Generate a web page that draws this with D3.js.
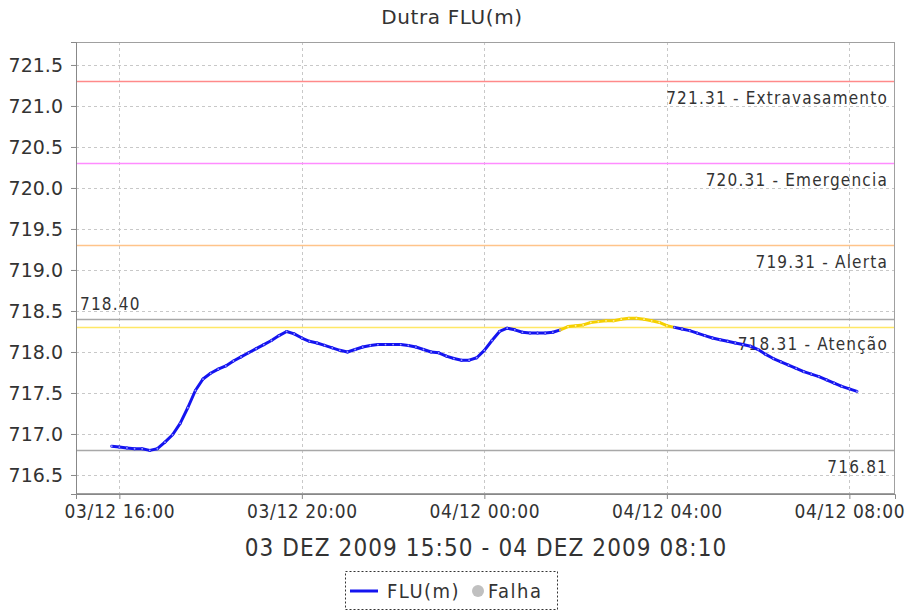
<!DOCTYPE html>
<html>
<head>
<meta charset="utf-8">
<script src="https://cdn.jsdelivr.net/npm/d3@7"></script>
<style>
  body { margin: 0; background: #fff; }
  text { font-family: "DejaVu Sans Condensed", "DejaVu Sans", sans-serif; fill: #333; }
</style>
</head>
<body>
<svg id="chart"></svg>
<script>
var times = [
  "03 15:50","03 16:00","03 16:10","03 16:20","03 16:30","03 16:40","03 16:50","03 17:00","03 17:10","03 17:20",
  "03 17:30","03 17:40","03 17:50","03 18:00","03 18:10","03 18:20","03 18:30","03 18:40","03 18:50","03 19:00",
  "03 19:10","03 19:20","03 19:30","03 19:40","03 19:50","03 20:00","03 20:10","03 20:20","03 20:30","03 20:40",
  "03 20:50","03 21:00","03 21:10","03 21:20","03 21:30","03 21:40","03 21:50","03 22:00","03 22:10","03 22:20",
  "03 22:30","03 22:40","03 22:50","03 23:00","03 23:10","03 23:20","03 23:30","03 23:40","03 23:50","04 00:00",
  "04 00:10","04 00:20","04 00:30","04 00:40","04 00:50","04 01:00","04 01:10","04 01:20","04 01:30","04 01:40",
  "04 01:50","04 02:00","04 02:10","04 02:20","04 02:30","04 02:40","04 02:50","04 03:00","04 03:10","04 03:20",
  "04 03:30","04 03:40","04 03:50","04 04:00","04 04:10","04 04:20","04 04:30","04 04:40","04 04:50","04 05:00",
  "04 05:10","04 05:20","04 05:30","04 05:40","04 05:50","04 06:00","04 06:10","04 06:20","04 06:30","04 06:40",
  "04 06:50","04 07:00","04 07:10","04 07:20","04 07:30","04 07:40","04 07:50","04 08:00","04 08:10"
];
var levels = [
  716.85,716.84,716.83,716.82,716.82,716.80,716.82,716.90,716.99,717.13,
  717.32,717.53,717.67,717.74,717.79,717.83,717.89,717.94,717.99,718.04,
  718.09,718.14,718.20,718.25,718.22,718.17,718.13,718.11,718.08,718.05,
  718.02,718.00,718.03,718.06,718.08,718.09,718.09,718.09,718.09,718.08,
  718.06,718.03,718.00,717.99,717.95,717.92,717.90,717.90,717.93,718.02,
  718.14,718.25,718.29,718.27,718.24,718.23,718.23,718.23,718.24,718.27,
  718.31,718.32,718.33,718.36,718.37,718.38,718.38,718.40,718.41,718.41,
  718.40,718.38,718.36,718.32,718.30,718.28,718.26,718.23,718.20,718.17,
  718.15,718.13,718.11,718.09,718.07,718.03,717.97,717.92,717.88,717.84,
  717.80,717.76,717.73,717.70,717.66,717.62,717.58,717.55,717.52
];

// reference lines
var markerValues = [721.31, 720.31, 719.31, 718.31];
var markerNames = ["Extravasamento", "Emergencia", "Alerta", "Atenção"];
var markerColors = ["#ff8a8a", "#ff8cff", "#ffc48a", "#ffe866"];
var rangeValues = [718.40, 716.81];

var xTicks = ["03 16:00", "03 20:00", "04 00:00", "04 04:00", "04 08:00"];
var yTicks = [716.5, 717.0, 717.5, 718.0, 718.5, 719.0, 719.5, 720.0, 720.5, 721.0, 721.5];

var title = "Dutra FLU(m)";
var xLabel = "03 DEZ 2009 15:50 - 04 DEZ 2009 08:10";

var W = 906, H = 614;
var margin = { top: 42, right: 11, bottom: 120, left: 76 };
var width = W - margin.left - margin.right;
var height = H - margin.top - margin.bottom;

var parse = d3.timeParse("%Y-%m-%d %H:%M");
var toDate = function (s) { return parse("2009-12-" + s.slice(0, 2) + " " + s.slice(3)); };

var data = times.map(function (t, i) { return { date: toDate(t), value: levels[i] }; });

var x = d3.scaleTime()
  .domain([toDate("03 15:03"), toDate("04 09:00")])
  .range([0, width]);
var y = d3.scaleLinear()
  .domain([716.268, 721.78])
  .range([height, 0]);

var svg = d3.select("#chart").attr("width", W).attr("height", H);

svg.append("text")
  .attr("x", 452).attr("y", 24)
  .attr("text-anchor", "middle")
  .style("font-family", "'DejaVu Sans', sans-serif")
  .style("font-size", "20px").style("letter-spacing", "0.6px")
  .text(title);

var g = svg.append("g").attr("transform", "translate(" + margin.left + "," + margin.top + ")");

g.append("rect").attr("width", width).attr("height", height).attr("fill", "#fff");

// grid
g.append("g").selectAll("line").data(yTicks).join("line")
  .attr("x1", 0).attr("x2", width)
  .attr("y1", function (d) { return Math.round(y(d)) + 0.5; })
  .attr("y2", function (d) { return Math.round(y(d)) + 0.5; })
  .attr("stroke", "#c8c8c8").attr("stroke-dasharray", "3,3");
g.append("g").selectAll("line").data(xTicks).join("line")
  .attr("y1", 0).attr("y2", height)
  .attr("x1", function (d) { return Math.round(x(toDate(d))) + 0.5; })
  .attr("x2", function (d) { return Math.round(x(toDate(d))) + 0.5; })
  .attr("stroke", "#c8c8c8").attr("stroke-dasharray", "3,3");

// threshold markers
markerValues.forEach(function (v, i) {
  var yy = Math.round(y(v)) + 0.5;
  g.append("line").attr("x1", 0).attr("x2", width).attr("y1", yy).attr("y2", yy)
    .attr("stroke", markerColors[i]).attr("stroke-width", 1.3);
  g.append("text").attr("x", width - 7).attr("y", yy + 22)
    .attr("text-anchor", "end").style("font-size", "17px").style("letter-spacing", "1.2px")
    .text(v.toFixed(2) + " - " + markerNames[i]);
});
rangeValues.forEach(function (v, i) {
  var yy = Math.round(y(v)) + 0.5;
  g.append("line").attr("x1", 0).attr("x2", width).attr("y1", yy).attr("y2", yy)
    .attr("stroke", "#a8a8a8").attr("stroke-width", 1.3);
  g.append("text")
    .attr("x", i === 0 ? 4 : width - 7)
    .attr("y", i === 0 ? yy - 10 : yy + 22)
    .attr("text-anchor", i === 0 ? "start" : "end")
    .style("font-size", "17px").style("letter-spacing", "1.2px")
    .text(v.toFixed(2));
});

// series, segments coloured by the attention threshold
var line = d3.line()
  .x(function (d) { return x(d.date); })
  .y(function (d) { return y(d.value); });
var segs = d3.pairs(data);
g.append("g").selectAll("path").data(segs).join("path")
  .attr("d", line)
  .attr("fill", "none")
  .attr("stroke", function (d) {
    return Math.max(d[0].value, d[1].value) >= markerValues[3] ? "#f5d000" : "#1414f0";
  })
  .attr("stroke-width", 3)
  .attr("stroke-linecap", "round");
g.append("g").selectAll("circle").data(data).join("circle")
  .attr("cx", function (d) { return x(d.date); })
  .attr("cy", function (d) { return y(d.value); })
  .attr("r", 0.9)
  .attr("fill", function (d) { return d.value >= markerValues[3] ? "#fff0a0" : "#9a9aff"; });

// border
g.append("rect").attr("x", 0.5).attr("y", 0.5).attr("width", width - 1).attr("height", height - 1)
  .attr("fill", "none").attr("stroke", "#a0a0a0");

// axes
var yAxis = d3.axisLeft(y).tickValues(yTicks).tickFormat(d3.format(".1f")).tickSize(5).tickPadding(8);
var gy = g.append("g").call(yAxis);
gy.select(".domain").attr("stroke", "#888");
gy.selectAll(".tick line").attr("stroke", "#888");
gy.selectAll("text").style("font-family", "'DejaVu Sans', sans-serif").style("font-size", "19px")
  .attr("fill", "#333");

var xAxis = d3.axisBottom(x).tickValues(xTicks.map(toDate))
  .tickFormat(d3.timeFormat("%d/%m %H:%M")).tickSize(5).tickPadding(6);
var gx = g.append("g").attr("transform", "translate(0," + height + ")").call(xAxis);
gx.select(".domain").attr("stroke", "#888");
gx.selectAll(".tick line").attr("stroke", "#888");
gx.selectAll("text").style("font-size", "19px").style("letter-spacing", "0.6px").attr("fill", "#333");

svg.append("text")
  .attr("x", 486).attr("y", 556)
  .attr("text-anchor", "middle").style("font-size", "24px").style("letter-spacing", "1.1px")
  .text(xLabel);

// legend
var lg = svg.append("g").attr("transform", "translate(345,571)");
lg.append("rect").attr("x", 0.5).attr("y", 0.5).attr("width", 212).attr("height", 38)
  .attr("fill", "#fff").attr("stroke", "#333").attr("stroke-dasharray", "2,2");
lg.append("line").attr("x1", 5).attr("x2", 33).attr("y1", 20).attr("y2", 20)
  .attr("stroke", "#1414f0").attr("stroke-width", 3);
lg.append("text").attr("x", 42).attr("y", 27).style("font-size", "20px").style("letter-spacing", "1.5px").text("FLU(m)");
lg.append("circle").attr("cx", 133).attr("cy", 20).attr("r", 6).attr("fill", "#c0c0c0");
lg.append("text").attr("x", 143).attr("y", 27).style("font-size", "20px").style("letter-spacing", "1.5px").text("Falha");
</script>
</body>
</html>
